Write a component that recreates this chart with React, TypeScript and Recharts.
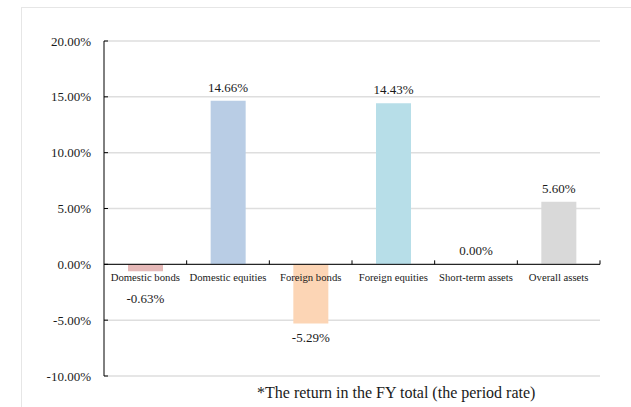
import { BarChart, Bar, XAxis, YAxis, CartesianGrid, ReferenceLine, Cell, LabelList } from 'recharts'

const categories = ['Domestic bonds', 'Domestic equities', 'Foreign bonds', 'Foreign equities', 'Short-term assets', 'Overall assets']
const returns = [-0.63, 14.66, -5.29, 14.43, 0.0, 5.6]
const barColors = ['#E6B9B8', '#B9CDE5', '#FCD5B5', '#B7DEE8', '#C3D69B', '#D9D9D9']
const yTicks = [-10, -5, 0, 5, 10, 15, 20]
const footnote = '*The return in the FY total (the period rate)'

const Y_MIN = -10
const Y_MAX = 20

const WIDTH = 631
const HEIGHT = 407
const MARGIN = { top: 41, right: 31, bottom: 0, left: 0 }
const X_AXIS_HEIGHT = 31
const Y_AXIS_WIDTH = 104
const PLOT_H = HEIGHT - MARGIN.top - MARGIN.bottom - X_AXIS_HEIGHT
const PLOT_W = WIDTH - MARGIN.right - MARGIN.left - Y_AXIS_WIDTH
const BAND = PLOT_W / categories.length
const ZERO_FROM_BOTTOM = (PLOT_H * (0 - Y_MIN)) / (Y_MAX - Y_MIN)

const FONT = 'Liberation Serif, Times New Roman, serif'
const TEXT = '#1a1a1a'

const data = categories.map((name, i) => ({ name, value: returns[i] }))

const fmt = (v: number) => `${v.toFixed(2)}%`

function YTick(props: any) {
  const { x, y, payload } = props
  return (
    <g>
      <line x1={x} y1={y} x2={x + 4} y2={y} stroke="#000" />
      <text x={x - 13} y={y} dy={4.5} textAnchor="end" fontSize={13} fontFamily={FONT} fill={TEXT}>
        {fmt(payload.value)}
      </text>
    </g>
  )
}

function XTick(props: any) {
  const { x, y, payload } = props
  const zeroY = y - ZERO_FROM_BOTTOM
  const right = x + BAND / 2
  return (
    <g>
      <line x1={right} y1={zeroY} x2={right} y2={zeroY - 4} stroke="#000" />
      <text x={x} y={zeroY + 17} textAnchor="middle" fontSize={10.7} fontFamily={FONT} fill={TEXT}>
        {payload.value}
      </text>
    </g>
  )
}

function ValueLabel(props: any) {
  const { x, y, width, height, value } = props
  const top = Math.min(y, y + height)
  const bottom = Math.max(y, y + height)
  const cx = x + width / 2
  let ty: number
  if (value < 0) {
    // Excel nudged the small negative label below the category names
    const zeroY = top
    ty = Math.max(bottom + 19, zeroY + 39)
  } else {
    ty = top - 9
  }
  return (
    <text x={cx} y={ty} textAnchor="middle" fontSize={13} fontFamily={FONT} fill={TEXT}>
      {fmt(value)}
    </text>
  )
}

export default function App() {
  return (
    <div style={{ position: 'fixed', left: 0, top: 0, width: WIDTH, height: HEIGHT, background: '#fff', overflow: 'hidden' }}>
      <div
        style={{
          position: 'absolute',
          left: 21,
          top: 7,
          width: WIDTH,
          height: HEIGHT,
          border: '1px solid #e6e6e6',
        }}
      />
      <div style={{ position: 'absolute', left: 0, top: 0 }}>
        <BarChart width={WIDTH} height={HEIGHT} data={data} margin={MARGIN}>
          <CartesianGrid vertical={false} stroke="#dedede" strokeWidth={1.5} />
          <XAxis
            dataKey="name"
            height={X_AXIS_HEIGHT}
            axisLine={false}
            tickLine={false}
            tickSize={0}
            tickMargin={0}
            interval={0}
            tick={<XTick />}
          />
          <YAxis
            type="number"
            domain={[Y_MIN, Y_MAX]}
            ticks={yTicks}
            width={Y_AXIS_WIDTH}
            axisLine={{ stroke: '#000' }}
            tickLine={false}
            tickSize={0}
            tickMargin={0}
            tick={<YTick />}
          />
          <ReferenceLine y={0} stroke="#000" />
          <Bar dataKey="value" barSize={35} minPointSize={0.01} isAnimationActive={false}>
            {data.map((d, i) => (
              <Cell key={d.name} fill={barColors[i]} />
            ))}
            <LabelList dataKey="value" content={<ValueLabel />} />
          </Bar>
        </BarChart>
      </div>
      <div
        style={{
          position: 'absolute',
          left: 257,
          top: 384,
          fontFamily: FONT,
          fontSize: 16,
          color: TEXT,
          whiteSpace: 'nowrap',
        }}
      >
        {footnote}
      </div>
    </div>
  )
}
